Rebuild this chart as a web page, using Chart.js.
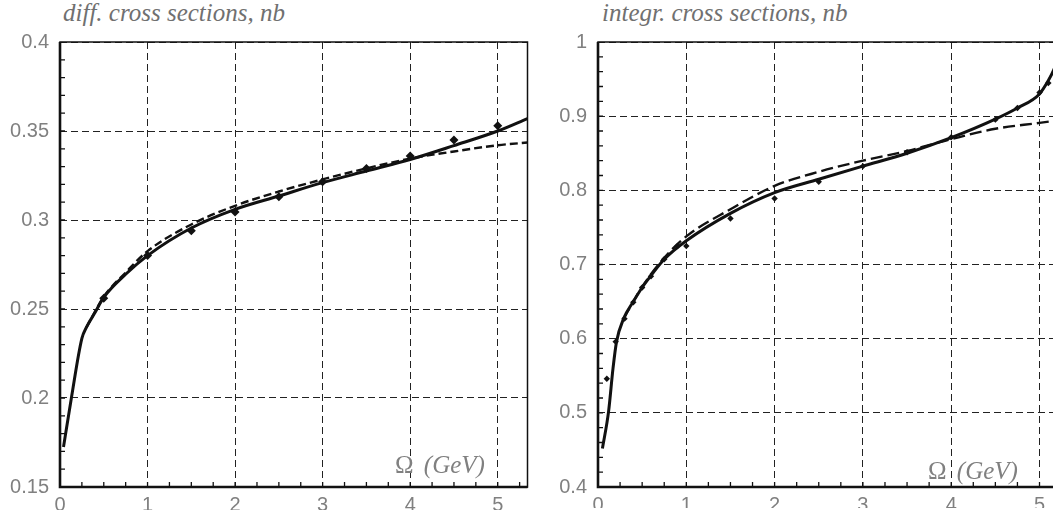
<!DOCTYPE html>
<html>
<head>
<meta charset="utf-8">
<script src="https://cdn.jsdelivr.net/npm/chart.js@4.4.0/dist/chart.umd.min.js"></script>
<style>
html, body { margin: 0; padding: 0; background: #fff; overflow: hidden; width: 1053px; height: 510px; }
canvas { position: absolute; top: 0; }
.title { position: absolute; top: 0px; font-family: "Liberation Serif", "DejaVu Serif", serif; font-style: italic; font-size: 25px; line-height: 25px; color: #707070; white-space: nowrap; }
.omega { position: absolute; font-family: "Liberation Serif", "DejaVu Serif", serif; font-size: 25px; line-height: 25px; color: #808080; white-space: nowrap; }
.omega i { font-style: italic; margin-left: 4px; }
</style>
</head>
<body>
<div class="title" style="left:63px">diff. cross sections, nb</div>
<div class="title" style="left:602px">integr. cross sections, nb</div>
<canvas id="diff" width="532" height="510" style="left:0"></canvas>
<canvas id="integr" width="540" height="510" style="left:530px"></canvas>
<div class="omega" style="left:395px;top:452px">Ω <i>(GeV)</i></div>
<div class="omega" style="left:928px;top:458px">Ω <i>(GeV)</i></div>
<script>
"use strict"

/*====================================================================
Data
====================================================================*/
// left panel: differential cross sections
var diffMarkX = [0.5, 1, 1.5, 2, 2.5, 3, 3.5, 4, 4.5, 5]
var diffMarkY = [0.256, 0.280, 0.294, 0.3045, 0.313, 0.3215, 0.329, 0.336, 0.345, 0.353]
var diffSolidX = [0.04, 0.13, 0.25, 0.3, 0.4, 0.5, 0.75, 1, 1.5, 2, 2.5, 3, 3.5, 4, 4.5, 5, 5.34]
var diffSolidY = [0.1725, 0.200, 0.2335, 0.2395, 0.248, 0.2565, 0.2695, 0.280, 0.2955, 0.306, 0.3135, 0.321, 0.3275, 0.334, 0.3418, 0.350, 0.357]
var diffDashX = [0.3, 0.4, 0.5, 0.75, 1, 1.5, 2, 2.5, 3, 3.5, 4, 4.5, 5, 5.34]
var diffDashY = [0.2395, 0.2485, 0.257, 0.2705, 0.2825, 0.2975, 0.308, 0.316, 0.3228, 0.329, 0.3345, 0.3385, 0.342, 0.3435]

// right panel: integrated cross sections
var intMarkX = [0.1, 0.2, 0.3, 0.4, 0.5, 0.6, 0.75, 0.9, 1, 1.5, 2, 2.5, 3, 3.5, 4, 4.5, 4.75, 5, 5.1]
var intMarkY = [0.546, 0.596, 0.627, 0.649, 0.669, 0.684, 0.707, 0.725, 0.725, 0.762, 0.789, 0.8115, 0.8326, 0.8514, 0.8716, 0.8953, 0.911, 0.932, 0.9446]
var intSolidX = [0.05, 0.12, 0.17, 0.21, 0.29, 0.4, 0.5, 0.6, 0.75, 1, 1.5, 2, 2.5, 3, 3.5, 4, 4.5, 4.75, 5, 5.1, 5.16, 5.25]
var intSolidY = [0.452, 0.502, 0.560, 0.596, 0.627, 0.650, 0.669, 0.685, 0.707, 0.732, 0.769, 0.797, 0.815, 0.8326, 0.850, 0.871, 0.896, 0.911, 0.930, 0.948, 0.962, 0.99]
var intDashX = [0.29, 0.4, 0.5, 0.75, 1, 1.5, 2, 2.5, 3, 3.5, 4, 4.5, 5, 5.3]
var intDashY = [0.627, 0.650, 0.670, 0.709, 0.738, 0.7745, 0.806, 0.825, 0.840, 0.853, 0.869, 0.883, 0.891, 0.896]

/*====================================================================
Functions
====================================================================*/
function pts(xs, ys){
    return xs.map((x, i) => ({x: x, y: ys[i]}))
}

// frame round the plot area and small inward ticks on the left and bottom axes
function framePlugin(xMinor, yMinor){
    return {
        id: "frame",
        afterDraw(chart){
            const ctx = chart.ctx
            const a = chart.chartArea
            const xs = chart.scales.x
            const ys = chart.scales.y
            ctx.save()
            ctx.strokeStyle = "#111"
            ctx.lineWidth = 1.3
            ctx.beginPath()
            for (let i = 1; i * xMinor < xs.max; i++){
                const px = xs.getPixelForValue(i * xMinor)
                ctx.moveTo(px, a.bottom)
                ctx.lineTo(px, a.bottom - 5)
            }
            for (let i = Math.round(ys.min / yMinor) + 1; i * yMinor < ys.max - 1e-9; i++){
                const py = ys.getPixelForValue(i * yMinor)
                ctx.moveTo(a.left, py)
                ctx.lineTo(a.left + 5, py)
            }
            ctx.stroke()
            ctx.lineWidth = 1.5
            ctx.strokeRect(a.left, a.top, a.right - a.left, a.bottom - a.top)
            ctx.lineWidth = 2.6
            ctx.beginPath()
            ctx.moveTo(a.left, a.top)
            ctx.lineTo(a.left, a.bottom)
            ctx.lineTo(a.right, a.bottom)
            ctx.stroke()
            ctx.restore()
        }
    }
}

function makeChart(id, cfg){
    const tickFont = {family: "'Liberation Sans', Arial, sans-serif", size: 20}
    return new Chart(document.getElementById(id), {
        type: "scatter",
        data: {datasets: [
            {data: pts(cfg.markX, cfg.markY), pointStyle: "rectRot", pointRadius: cfg.markR,
             backgroundColor: "#111", borderColor: "#111", borderWidth: 0, showLine: false, order: 0},
            {data: pts(cfg.solidX, cfg.solidY), showLine: true, pointRadius: 0, borderColor: "#111",
             borderWidth: 3, cubicInterpolationMode: "monotone", order: 1},
            {data: pts(cfg.dashX, cfg.dashY), showLine: true, pointRadius: 0, borderColor: "#111",
             borderWidth: 2.4, borderDash: cfg.dash, cubicInterpolationMode: "monotone", order: 2}
        ]},
        options: {
            responsive: false,
            animation: false,
            devicePixelRatio: 1,
            layout: {padding: {top: 42, right: cfg.padRight, left: 0, bottom: 0}},
            plugins: {legend: {display: false}, tooltip: {enabled: false}},
            scales: {
                x: {type: "linear", min: 0, max: cfg.xMax,
                    afterFit: (s) => { s.height = cfg.xHeight },
                    ticks: {stepSize: 1, includeBounds: false, autoSkip: false, maxRotation: 0,
                            color: "#808080", font: tickFont, padding: 6},
                    grid: {color: "#222", lineWidth: 1, drawTicks: false},
                    border: {display: false, dash: [7, 4]}},
                y: {type: "linear", min: cfg.yMin, max: cfg.yMax,
                    afterFit: (s) => { s.width = cfg.yWidth },
                    ticks: {stepSize: cfg.yStep, color: "#808080", font: tickFont, padding: 11,
                            callback: (v) => String(Number(v.toFixed(2)))},
                    grid: {color: "#222", lineWidth: 1, drawTicks: false},
                    border: {display: false, dash: [7, 4]}}
            }
        },
        plugins: [framePlugin(0.25, cfg.yMinor)]
    })
}

makeChart("diff", {markX: diffMarkX, markY: diffMarkY, solidX: diffSolidX, solidY: diffSolidY,
    dashX: diffDashX, dashY: diffDashY, markR: 4.5, dash: [8, 4],
    xMax: 5.34, yMin: 0.15, yMax: 0.4, yStep: 0.05, yMinor: 0.01,
    padRight: 2, xHeight: 23, yWidth: 60})

makeChart("integr", {markX: intMarkX, markY: intMarkY, solidX: intSolidX, solidY: intSolidY,
    dashX: intDashX, dashY: intDashY, markR: 3.2, dash: [12, 5],
    xMax: 5.3, yMin: 0.4, yMax: 1, yStep: 0.1, yMinor: 0.02,
    padRight: 4, xHeight: 21, yWidth: 68})
</script>
</body>
</html>
